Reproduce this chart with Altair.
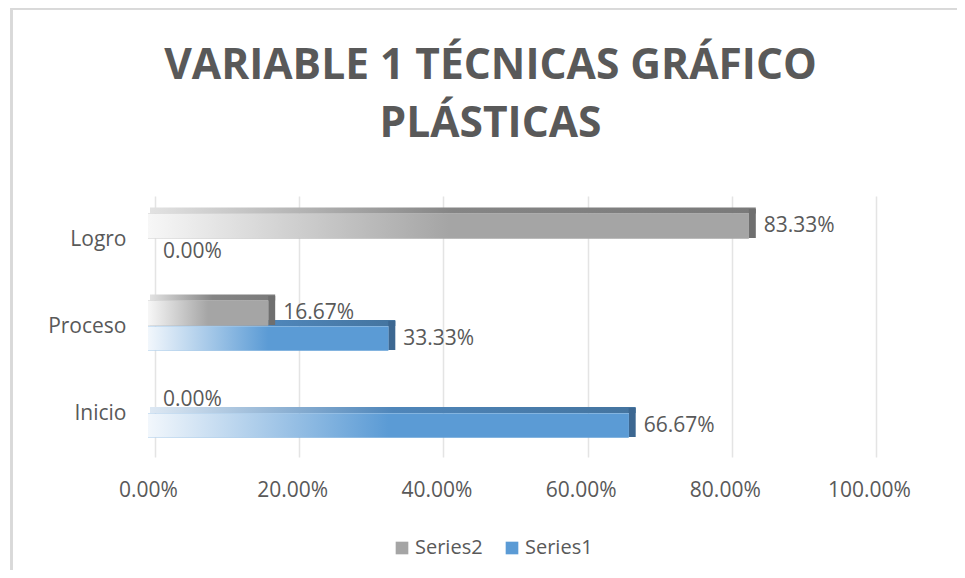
import altair as alt
import pandas as pd

categories = ["Logro", "Proceso", "Inicio"]
series_names = ["Series2", "Series1"]
series1 = [0.00, 33.33, 66.67]
series2 = [83.33, 16.67, 0.00]
x_ticks = [0, 0.2, 0.4, 0.6, 0.8, 1.0]
title_lines = ["VARIABLE 1 TÉCNICAS GRÁFICO", "PLÁSTICAS"]

rows = []
for c, v1, v2 in zip(categories, series1, series2):
    rows.append({"category": c, "series": "Series2", "value": v2 / 100, "zero": 0.0})
    rows.append({"category": c, "series": "Series1", "value": v1 / 100, "zero": 0.0})
df = pd.DataFrame(rows)

FONT = "Open Sans"
TXT = "#595959"


def grad(c0, cm, c1, mid):
    return alt.Gradient(
        gradient="linear", x1=0, x2=1, y1=0, y2=0,
        stops=[alt.GradientStop(color=c0, offset=0),
               alt.GradientStop(color=cm, offset=mid),
               alt.GradientStop(color=c1, offset=1)],
    )


x_axis = alt.Axis(values=x_ticks, format=".2%", grid=True, gridColor="#e4e4e4",
                  gridWidth=1.5, domain=False, ticks=False, labelFont=FONT,
                  labelFontSize=21, labelColor=TXT, labelPadding=22, labelOffset=-7,
                  labelFlush=False, title=None)
y_axis = alt.Axis(domain=False, ticks=False, grid=False, labelFont=FONT,
                  labelFontSize=21, labelColor=TXT, labelPadding=29, title=None)
x_scale = alt.Scale(domain=[0, 1], nice=False, zero=True)
y_scale = alt.Scale(domain=categories, paddingInner=0, paddingOuter=0)


def Y():
    return alt.Y("category:N", sort=categories, scale=y_scale, axis=y_axis)


params = {
    "Series2": dict(front=-13.5, top=-29, side=-16, fh=25,
                    fg=grad("#f7f7f7", "#a5a5a5", "#a5a5a5", 0.5),
                    tg=grad("#e2e2e2", "#858585", "#7a7a7a", 0.5),
                    sc="#6f6f6f", solid="#a5a5a5"),
    "Series1": dict(front=12, top=-3.5, side=9, fh=24,
                    fg=grad("#f2f7fc", "#5b9bd5", "#5b9bd5", 0.5),
                    tg=grad("#dde8f3", "#4f86ba", "#44749f", 0.5),
                    sc="#3c6791", solid="#5b9bd5"),
}

color_enc = alt.Color(
    "series:N",
    scale=alt.Scale(domain=series_names, range=[params[s]["solid"] for s in series_names]),
    legend=alt.Legend(orient="none", legendX=237, legendY=342, direction="horizontal",
                      title=None, symbolType="square", symbolSize=160,
                      symbolStrokeWidth=0, labelFont=FONT, labelFontSize=20,
                      labelColor=TXT, columnPadding=19, labelOffset=3),
)


def faces(s):
    p = params[s]
    d = df[df["series"] == s]
    base = alt.Chart(d)
    top = base.transform_filter("datum.value > 0").mark_bar(
        height=6, yOffset=p["top"], x2Offset=-5, fill=p["tg"]
    ).encode(x=alt.X("value:Q", scale=x_scale, axis=x_axis), x2="zero:Q", y=Y())
    side = base.transform_filter("datum.value > 0").mark_bar(
        height=29, yOffset=p["side"], x2Offset=-7, fill=p["sc"]
    ).encode(x=alt.X("value:Q", scale=x_scale, axis=x_axis), x2="value:Q", y=Y())
    solid = base.mark_bar(
        height=p["fh"], yOffset=p["front"], xOffset=-7, x2Offset=-7
    ).encode(x=alt.X("value:Q", scale=x_scale, axis=x_axis), x2="zero:Q", y=Y(),
             color=color_enc)
    front = base.mark_bar(
        height=p["fh"], yOffset=p["front"], xOffset=-7, x2Offset=-7, fill=p["fg"]
    ).encode(x=alt.X("value:Q", scale=x_scale, axis=x_axis), x2="zero:Q", y=Y())
    label = base.mark_text(
        align="left", baseline="middle", dx=8, yOffset=p["front"], font=FONT,
        fontSize=21, color=TXT
    ).encode(x=alt.X("value:Q", scale=x_scale, axis=x_axis), y=Y(),
             text=alt.Text("value:Q", format=".2%"))
    return top, side, solid, front, label


t1, s1, so1, f1, l1 = faces("Series1")
t2, s2, so2, f2, l2 = faces("Series2")

border_top = alt.Chart(df).mark_rule(color="#d9d9d9", strokeWidth=2).encode(
    x=alt.value(-144), x2=alt.value(820), y=alt.value(-187.5))
border_left = alt.Chart(df).mark_rule(color="#d9d9d9", strokeWidth=2).encode(
    x=alt.value(-143.5), y=alt.value(-188), y2=alt.value(400))

chart = alt.layer(
    border_top, border_left,
    t1, s1, t2, s2, so2, f2, so1, f1, l2, l1,
).properties(
    width=721, height=261,
    title=alt.TitleParams(text=title_lines, anchor="middle", frame="group", dx=-25,
                          offset=-138, font=FONT, fontSize=42.5, fontWeight="bold",
                          color=TXT, lineHeight=58),
    autosize=alt.AutoSizeParams(type="none"),
    padding={"left": 147, "top": 188, "right": 81, "bottom": 113},
).configure_view(stroke=None)

chart.save("out.html", embed_options={"renderer": "svg", "actions": False})
